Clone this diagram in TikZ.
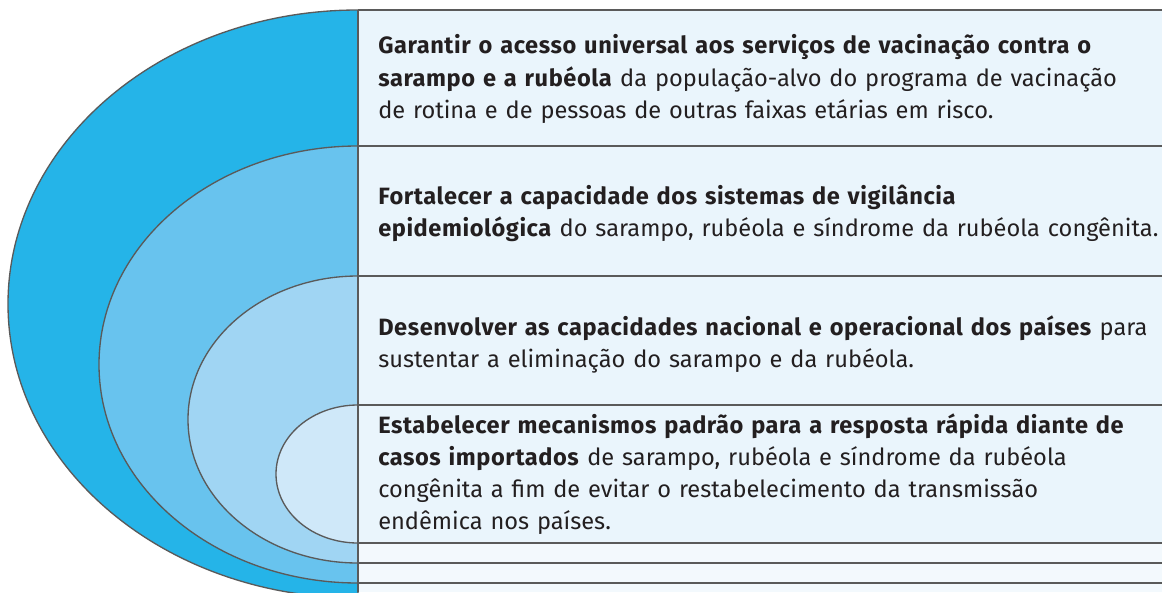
\documentclass[tikz,border=0pt]{standalone}
\usepackage{fontspec}
\setmainfont{Fira Sans}[BoldFeatures={LetterSpace=2.4}]
\definecolor{ringA}{HTML}{25B4E8}
\definecolor{ringB}{HTML}{68C3EE}
\definecolor{ringC}{HTML}{A0D5F3}
\definecolor{ringD}{HTML}{CFE8F9}
\definecolor{boxbg}{HTML}{EAF5FC}
\definecolor{stripbg}{HTML}{F3F9FD}
\definecolor{edge}{HTML}{5A5A5A}
\definecolor{ink}{HTML}{231F20}
\tikzset{
  ring/.style={draw=edge, line width=1pt},
  rule/.style={draw=edge, line width=1.1pt},
  txt/.style={anchor=base west, inner sep=0pt, align=left, text width=640pt, text=ink,
    font=\fontsize{17.7}{24.2}\selectfont},
}
\begin{document}
\begin{tikzpicture}[x=0.75pt,y=-0.75pt]
\useasboundingbox (0,0) rectangle (1162,592);
\begin{scope}
\clip (0,0) rectangle (1162,592);
\fill[boxbg] (358,10) rectangle (1162,543);
\fill[stripbg] (358,543) rectangle (1162,592);
\filldraw[ring, fill=ringA] (358,10) arc[start angle=270, end angle=90, x radius=350, y radius=294] -- cycle;
\filldraw[ring, fill=ringB] (358,146) arc[start angle=270, end angle=90, x radius=259, y radius=218.5] -- cycle;
\filldraw[ring, fill=ringC] (358,276) arc[start angle=270, end angle=90, x radius=170, y radius=143.5] -- cycle;
\filldraw[ring, fill=ringD] (358,405) arc[start angle=270, end angle=90, x radius=82, y radius=69] -- cycle;
\foreach \yy in {10,146,276,405,543,563,583} {\draw[rule] (358,\yy) -- (1162,\yy);}
\draw[rule] (358,10) -- (358,592);
\end{scope}
\node[txt] (t1) at (378,54) {\textbf{Garantir o acesso universal aos serviços de vacinação contra o}\\
\textbf{sarampo e a rubéola} da população-alvo do programa de vacinação\\
de rotina e de pessoas de outras faixas etárias em risco.};
\node[txt] (t2) at (378,204) {\textbf{Fortalecer a capacidade dos sistemas de vigilância}\\
\textbf{epidemiológica} do sarampo, rubéola e síndrome da rubéola congênita.};
\node[txt] (t3) at (378,335) {\textbf{Desenvolver as capacidades nacional e operacional dos países} para\\
sustentar a eliminação do sarampo e da rubéola.};
\node[txt] (t4) at (378,433) {\textbf{Estabelecer mecanismos padrão para a resposta rápida diante de}\\
\textbf{casos importados} de sarampo, rubéola e síndrome da rubéola\\
congênita a fim de evitar o restabelecimento da transmissão\\
endêmica nos países.};
\end{tikzpicture}
\end{document}
